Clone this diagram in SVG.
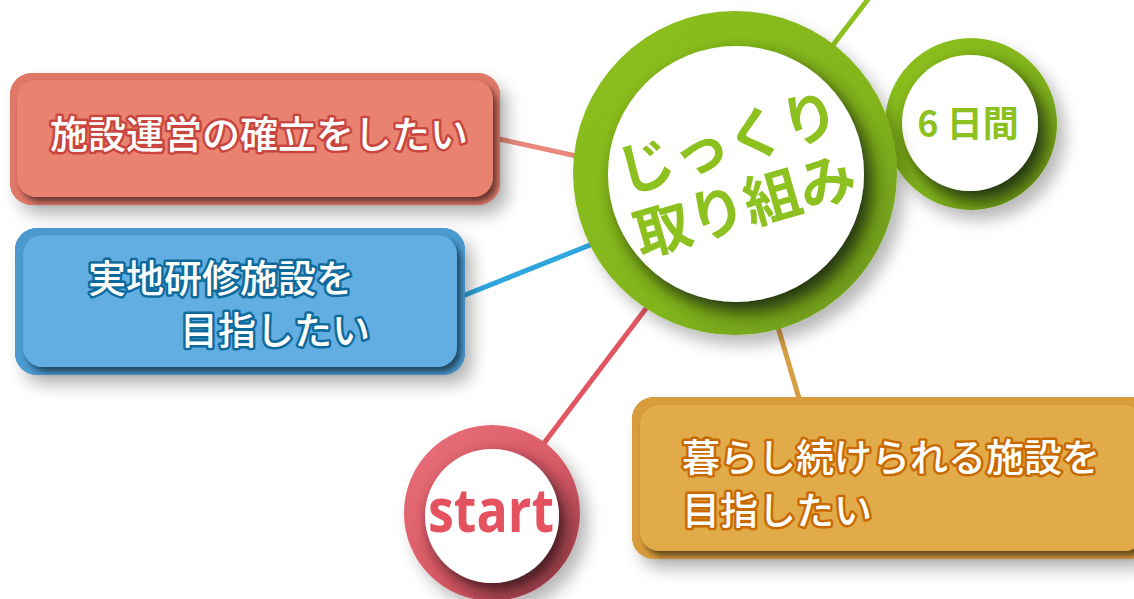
<svg xmlns="http://www.w3.org/2000/svg" width="1134" height="599" viewBox="0 0 1134 599">
<defs>
<style>
.box-text{font-family:"Noto Sans CJK JP","Noto Sans",sans-serif;font-size:38px;font-weight:500;fill:#ffffff;stroke-width:5;stroke-linejoin:round;paint-order:stroke}
.green-text{font-family:"Noto Sans CJK JP","Noto Sans",sans-serif;fill:#8cc11f;font-weight:600}
.conn{fill:none;stroke-width:5;stroke-linecap:butt}
</style>
<filter id="pageShadow" x="-30%" y="-30%" width="160%" height="160%">
<feDropShadow dx="8" dy="10" stdDeviation="8" flood-color="#000000" flood-opacity="0.28"/>
</filter>
<filter id="greenInner" x="-30%" y="-30%" width="160%" height="160%">
<feDropShadow dx="8" dy="10" stdDeviation="9" flood-color="#24330a" flood-opacity="1"/>
</filter>
<filter id="redInner" x="-30%" y="-30%" width="160%" height="160%">
<feDropShadow dx="6" dy="8" stdDeviation="8" flood-color="#3e141a" flood-opacity="0.95"/>
</filter>
<filter id="boxShadow" x="-10%" y="-20%" width="120%" height="150%">
<feDropShadow dx="4" dy="5" stdDeviation="3" flood-color="#000000" flood-opacity="0.55"/>
</filter>
<linearGradient id="startRing" x1="0" y1="0" x2="1" y2="1">
<stop offset="0" stop-color="#ea717b"/>
<stop offset="0.55" stop-color="#d95a66"/>
<stop offset="1" stop-color="#8a3a42"/>
</linearGradient>
<linearGradient id="greenRing" x1="0" y1="0" x2="1" y2="1">
<stop offset="0" stop-color="#8cc11f"/>
<stop offset="0.6" stop-color="#82b41e"/>
<stop offset="1" stop-color="#6a941a"/>
</linearGradient>
<clipPath id="clipBig"><circle cx="735" cy="173" r="162"/></clipPath>
<clipPath id="clipSmall"><circle cx="971" cy="124" r="86"/></clipPath>
<clipPath id="clipStart"><circle cx="492" cy="513" r="88"/></clipPath>
</defs>

<rect width="1134" height="599" fill="#ffffff"/>

<g id="connectors">
<line class="conn" x1="735" y1="173" x2="869" y2="-2" stroke="#8cc11f"/>
<line class="conn" x1="490" y1="137" x2="640" y2="170" stroke="#e9897a" stroke-width="4"/>
<line class="conn" x1="455" y1="299" x2="640" y2="225" stroke="#2ea6de"/>
<line class="conn" x1="535" y1="455" x2="660" y2="290" stroke="#e25661"/>
<line class="conn" x1="770" y1="300" x2="801" y2="405" stroke="#d6a045"/>
</g>

<g id="node-red">
<g filter="url(#pageShadow)">
<rect x="10" y="73" width="490" height="132" rx="22" fill="#d06a5a"/>
</g>
<rect x="10" y="73" width="490" height="132" rx="22" fill="#e07868"/>
<rect x="17" y="80" width="476" height="117" rx="20" fill="#e9836f" filter="url(#boxShadow)"/>
<text class="box-text" x="50" y="148" stroke="#c9453f">施設運営の確立をしたい</text>
</g>

<g id="node-blue">
<g filter="url(#pageShadow)">
<rect x="15" y="228" width="450" height="147" rx="22" fill="#3f88bb"/>
</g>
<rect x="15" y="228" width="450" height="147" rx="22" fill="#4a9ad0"/>
<rect x="23" y="235" width="434" height="132" rx="20" fill="#62aee2" filter="url(#boxShadow)"/>
<text class="box-text" x="88" y="292" stroke="#0f6a9c">実地研修施設を</text>
<text class="box-text" x="180" y="344" stroke="#0f6a9c">目指したい</text>
</g>

<g id="node-orange">
<g filter="url(#pageShadow)">
<rect x="632" y="397" width="520" height="162" rx="22" fill="#c48a30"/>
</g>
<rect x="632" y="397" width="520" height="162" rx="22" fill="#d89c3c"/>
<rect x="640" y="405" width="504" height="146" rx="20" fill="#e2ab4a" filter="url(#boxShadow)"/>
<text class="box-text" x="682" y="471" stroke="#c86a00">暮らし続けられる施設を</text>
<text class="box-text" x="682" y="524" stroke="#c86a00">目指したい</text>
</g>

<g id="node-days">
<circle cx="971" cy="124" r="86" fill="url(#greenRing)" filter="url(#pageShadow)"/>
<g clip-path="url(#clipSmall)">
<circle cx="970" cy="123" r="68" fill="#ffffff" filter="url(#greenInner)"/>
</g>
<text class="green-text" x="968" y="137" font-size="36" font-weight="900" text-anchor="middle">6 日間</text>
</g>

<g id="node-main">
<circle cx="735" cy="173" r="162" fill="url(#greenRing)" filter="url(#pageShadow)"/>
<g clip-path="url(#clipBig)">
<circle cx="736" cy="174" r="128" fill="#ffffff" filter="url(#greenInner)"/>
</g>
<text class="green-text" font-size="57" text-anchor="middle" transform="translate(728 143) rotate(-16)" y="20">じっくり</text>
<text class="green-text" font-size="57" text-anchor="middle" transform="translate(745 206) rotate(-16)" y="20">取り組み</text>
</g>

<g id="node-start">
<circle cx="492" cy="513" r="88" fill="url(#startRing)" filter="url(#pageShadow)"/>
<g clip-path="url(#clipStart)">
<circle cx="492" cy="516" r="67" fill="#ffffff" filter="url(#redInner)"/>
</g>
<text x="428" y="532" font-family="'Open Sans','Noto Sans',sans-serif" font-size="60" font-weight="700" fill="#e5525f" textLength="126" lengthAdjust="spacingAndGlyphs">start</text>
</g>
</svg>
